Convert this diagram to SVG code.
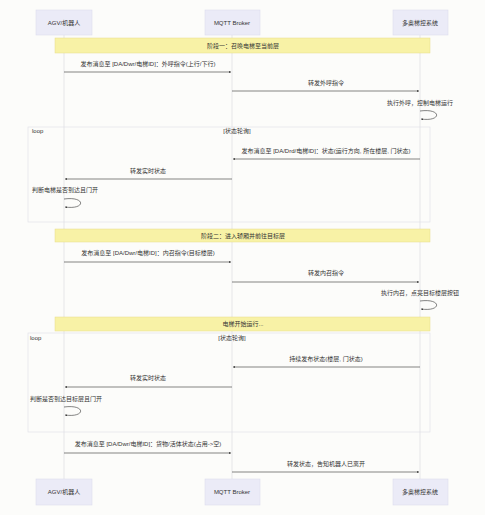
<svg xmlns="http://www.w3.org/2000/svg" width="485" height="515" viewBox="0 0 485 515">
<style>
text{font-family:"Liberation Sans","Noto Sans CJK SC",sans-serif;font-size:6px;fill:#333}
.actor rect{fill:#ebebf7;stroke:#dcdcef;stroke-width:0.6}
.life{stroke:#d6d6de;stroke-width:0.6}
.note rect{fill:#f8f2a6;stroke:#e6dc8a;stroke-width:0.5}
.loop rect{fill:none;stroke:#dedee6;stroke-width:0.6}
.msg{stroke:#333;stroke-width:0.6;fill:none}
.m{text-anchor:middle}
</style>
<defs>
<marker id="ah" viewBox="0 0 10 10" refX="9" refY="5" markerWidth="4" markerHeight="4" orient="auto">
<path d="M0,1 L10,5 L0,9 z" fill="#333"/>
</marker>
</defs>
<rect width="485" height="515" fill="#fcfcfa"/>
<g id="lifelines">
<line class="life" x1="64" y1="35" x2="64" y2="479"/>
<line class="life" x1="232" y1="35" x2="232" y2="479"/>
<line class="life" x1="420" y1="35" x2="420" y2="479"/>
</g>
<g id="agv" class="actor"><rect x="36" y="10" width="56" height="25"/><text class="m" x="64" y="25">AGV/机器人</text></g>
<g id="broker" class="actor"><rect x="205" y="10" width="55" height="25"/><text class="m" x="232" y="25">MQTT Broker</text></g>
<g id="ctrl" class="actor"><rect x="393" y="10" width="55" height="25"/><text class="m" x="420" y="25">多奥梯控系统</text></g>
<g id="agv-bottom" class="actor"><rect x="36" y="479" width="56" height="26"/><text class="m" x="64" y="494">AGV/机器人</text></g>
<g id="broker-bottom" class="actor"><rect x="205" y="479" width="55" height="26"/><text class="m" x="232" y="494">MQTT Broker</text></g>
<g id="ctrl-bottom" class="actor"><rect x="393" y="479" width="55" height="26"/><text class="m" x="420" y="494">多奥梯控系统</text></g>
<g id="note1" class="note"><rect x="55" y="38" width="375" height="15"/><text class="m" x="243" y="48">阶段一：召唤电梯至当前层</text></g>
<g id="loop1" class="loop"><rect x="28" y="127" width="402" height="95"/><text x="32" y="133">loop</text><text class="m" x="237" y="133">[状态轮询]</text></g>
<g id="note2" class="note"><rect x="55" y="229" width="375" height="13"/><text class="m" x="243" y="238">阶段二：进入轿厢并前往目标层</text></g>
<g id="note3" class="note"><rect x="55" y="317" width="375" height="14"/><text class="m" x="243" y="326">电梯开始运行...</text></g>
<g id="loop2" class="loop"><rect x="28" y="333" width="402" height="99"/><text x="30" y="340">loop</text><text class="m" x="232" y="340">[状态轮询]</text></g>
<g id="connectors">
<text class="m" x="148" y="66">发布消息至 [DA/Dwr/电梯ID]：外呼指令(上行/下行)</text>
<line class="msg" x1="64" y1="72" x2="231" y2="72" marker-end="url(#ah)"/>
<text class="m" x="326" y="85">转发外呼指令</text>
<line class="msg" x1="232" y1="91" x2="419" y2="91" marker-end="url(#ah)"/>
<text class="m" x="420" y="105">执行外呼，控制电梯运行</text>
<path class="msg" d="M420,111 C442,108 442,122 421,119" marker-end="url(#ah)"/>
<text class="m" x="326" y="153">发布消息至 [DA/Drd/电梯ID]：状态(运行方向, 所在楼层, 门状态)</text>
<line class="msg" x1="420" y1="159" x2="233" y2="159" marker-end="url(#ah)"/>
<text class="m" x="148" y="173">转发实时状态</text>
<line class="msg" x1="232" y1="179" x2="65" y2="179" marker-end="url(#ah)"/>
<text x="32" y="192">判断电梯是否到达且门开</text>
<path class="msg" d="M64,199 C86,196 86,210 65,207" marker-end="url(#ah)"/>
<text class="m" x="148" y="255">发布消息至 [DA/Dwr/电梯ID]：内召指令(目标楼层)</text>
<line class="msg" x1="64" y1="262" x2="231" y2="262" marker-end="url(#ah)"/>
<text class="m" x="326" y="275">转发内召指令</text>
<line class="msg" x1="232" y1="282" x2="419" y2="282" marker-end="url(#ah)"/>
<text class="m" x="420" y="295">执行内召，点亮目标楼层按钮</text>
<path class="msg" d="M420,301 C442,298 442,312 421,309" marker-end="url(#ah)"/>
<text class="m" x="326" y="361">持续发布状态(楼层, 门状态)</text>
<line class="msg" x1="420" y1="367" x2="233" y2="367" marker-end="url(#ah)"/>
<text class="m" x="148" y="380">转发实时状态</text>
<line class="msg" x1="232" y1="387" x2="65" y2="387" marker-end="url(#ah)"/>
<text x="30" y="401">判断是否到达目标层且门开</text>
<path class="msg" d="M64,407 C86,404 86,418 65,415" marker-end="url(#ah)"/>
<text class="m" x="148" y="446">发布消息至 [DA/Dwr/电梯ID]：货物/活体状态(占用-&gt;空)</text>
<line class="msg" x1="64" y1="453" x2="231" y2="453" marker-end="url(#ah)"/>
<text class="m" x="326" y="466">转发状态，告知机器人已离开</text>
<line class="msg" x1="232" y1="472" x2="419" y2="472" marker-end="url(#ah)"/>
</g>
</svg>
